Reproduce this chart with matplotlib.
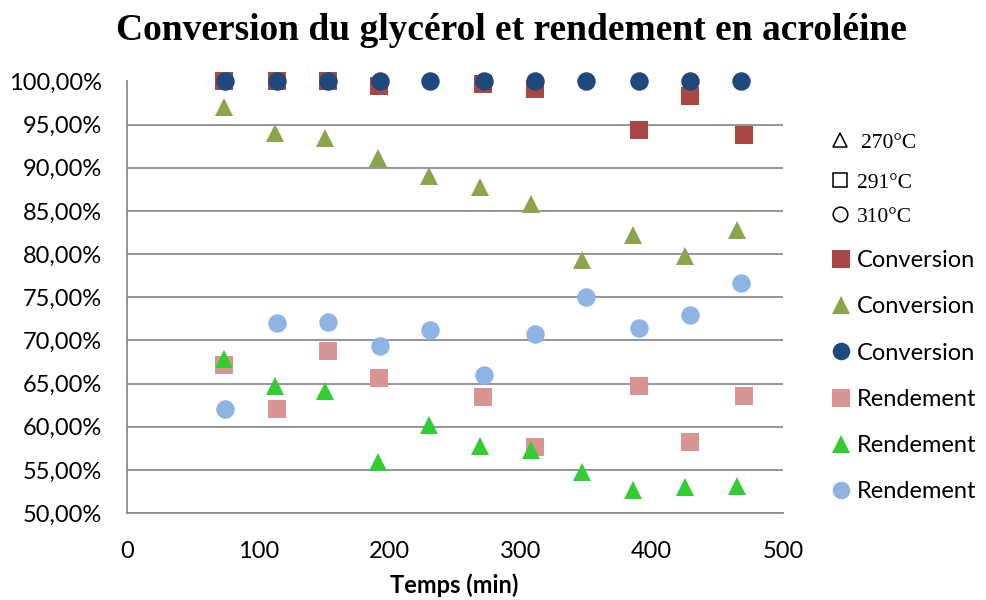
import matplotlib
matplotlib.use("Agg")
import matplotlib.pyplot as plt
from matplotlib.lines import Line2D
from matplotlib.ticker import FuncFormatter

# ---------------- data ----------------
t_conv_291 = [74, 114, 153, 192, 271, 311, 390, 429, 470]
conv_291 = [100.0, 100.0, 100.0, 99.45, 99.7, 99.1, 94.35, 98.3, 93.8]

t_conv_270 = [74, 113, 151, 191, 230, 269, 308, 347, 386, 425, 465]
conv_270 = [97.1, 94.0, 93.4, 91.1, 89.1, 87.8, 85.8, 79.3, 82.2, 79.8, 82.85]

t_conv_310 = [75, 114, 153, 193, 231, 272, 311, 350, 390, 429, 468]
conv_310 = [100.0] * 11

t_rend_291 = [74, 114, 153, 192, 271, 311, 390, 429, 470]
rend_291 = [67.2, 62.0, 68.8, 65.6, 63.4, 57.6, 64.7, 58.2, 63.5]

t_rend_270 = [74, 113, 151, 191, 230, 269, 308, 347, 386, 425, 465]
rend_270 = [67.9, 64.7, 64.1, 55.9, 60.2, 57.8, 57.3, 54.8, 52.7, 53.0, 53.15]

t_rend_310 = [75, 114, 153, 193, 231, 272, 311, 350, 390, 429, 468]
rend_310 = [62.1, 72.0, 72.1, 69.4, 71.2, 66.0, 70.7, 75.0, 71.4, 73.0, 76.7]

x_ticks = [0, 100, 200, 300, 400, 500]
y_ticks = [50, 55, 60, 65, 70, 75, 80, 85, 90, 95, 100]

title = "Conversion du glycérol et rendement en acroléine"
xlabel = "Temps (min)"
temp_labels = ["270°C", "291°C", "310°C"]

# ---------------- style ----------------
C_DARKRED = "#A84744"
C_OLIVE = "#8BA54A"
C_NAVY = "#1F497D"
C_PINK = "#D99593"
C_GREEN = "#33CC33"
C_LBLUE = "#8EB4E3"
GRID = "#8C8C8C"

sans = ["Lato", "DejaVu Sans"]
serif = ["Liberation Serif", "DejaVu Serif"]

fig = plt.figure(figsize=(9.86, 6.0), dpi=100)
ax = fig.add_axes([127 / 986, 1 - 513 / 600, (783 - 127) / 986, (513 - 81.5) / 600])

ms = 13.3
series = [
    (t_conv_291, conv_291, "s", C_DARKRED, "Conversion"),
    (t_conv_270, conv_270, "^", C_OLIVE, "Conversion"),
    (t_conv_310, conv_310, "o", C_NAVY, "Conversion"),
    (t_rend_291, rend_291, "s", C_PINK, "Rendement"),
    (t_rend_270, rend_270, "^", C_GREEN, "Rendement"),
    (t_rend_310, rend_310, "o", C_LBLUE, "Rendement"),
]
handles = []
for i, (xs, ys, m, c, lab) in enumerate(series):
    h, = ax.plot(xs, ys, linestyle="none", marker=m, markersize=ms,
                 color=c, markeredgewidth=0, label=lab, clip_on=False,
                 zorder=3 + i)
    handles.append(h)

ax.set_xlim(0, 500)
ax.set_ylim(50, 100)
ax.set_xticks(x_ticks)
ax.set_yticks(y_ticks)
ax.yaxis.set_major_formatter(FuncFormatter(lambda v, p: f"{v:.2f}%".replace(".", ",")))
ax.grid(axis="y", color=GRID, linewidth=1.3)
ax.set_axisbelow(True)
for s in ["top", "right"]:
    ax.spines[s].set_visible(False)
for s in ["left", "bottom"]:
    ax.spines[s].set_color(GRID)
    ax.spines[s].set_linewidth(1.3)
ax.tick_params(length=0, labelsize=17)
ax.tick_params(axis="y", pad=18)
ax.tick_params(axis="x", pad=20)
for lbl in ax.get_xticklabels() + ax.get_yticklabels():
    lbl.set_fontfamily(sans)

fig.text(454 / 986, 1 - 585 / 600, xlabel, ha="center", va="center",
         fontsize=17, fontweight="bold", family=sans)

fig.text(0.5 * (117 + 905) / 986, 1 - 31 / 600, title, ha="center", va="center",
         fontsize=27, fontweight="bold", family=serif)

# temperature key (open symbols)
temp_y = [140, 180, 214]
temp_x = [861, 857, 857]
temp_m = ["^", "s", "o"]
for yy, xx, m, lab in zip(temp_y, temp_x, temp_m, temp_labels):
    fig.add_artist(Line2D([840 / 986], [1 - yy / 600], transform=fig.transFigure,
                          marker=m, markersize=10.5, markerfacecolor="none",
                          markeredgecolor="black", markeredgewidth=1.1, linestyle="none"))
    fig.text(xx / 986, 1 - (yy + 4) / 600, lab, ha="left", va="center",
             fontsize=15.5, family=serif)

leg = fig.legend(handles=handles, loc="upper left",
                 bbox_to_anchor=(832 / 986, 1 - 250 / 600),
                 frameon=False, prop={"family": sans, "size": 17},
                 handlelength=0.75, handletextpad=0.3, labelspacing=1.07,
                 borderaxespad=0, borderpad=0, markerscale=0.95)

fig.savefig("out.png", dpi=100)
